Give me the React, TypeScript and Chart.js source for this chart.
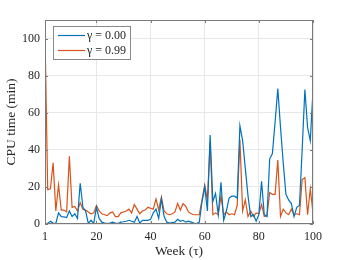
import React, { useEffect, useRef } from "react";
import { Chart, registerables } from "chart.js";

Chart.register(...registerables);

const weeks: number[] = Array.from({ length: 100 }, (_, i) => i + 1);

const gamma000: number[] = [
  0, 0.3, 1.5, 0.5, 0.3, 6, 4, 3.8, 3.5, 7,
  4, 5.5, 3, 22, 9, 7, 0.3, 2, 0.3, 9,
  3, 1, 0.5, 0.3, 0.5, 1, 0.5, 0.3, 1, 1.2,
  1.5, 2, 1.5, 1, 4, 0.5, 2, 2, 2, 2.5,
  6, 8, 3, 13.5, 4, 1, 0.5, 0.8, 1, 2.5,
  1.5, 2, 1, 1.5, 1, 0.5, 0.2, 1, 12, 20,
  7, 48, 12, 16.5, 5, 22.5, 2, 7, 14, 15,
  15, 14, 53, 45, 30, 15, 4, 5, 1.5, 5,
  23, 5, 4, 35, 38, 55, 73, 52, 33, 16,
  13, 11, 4, 9, 10, 40, 72.5, 52, 45, 72,
];

const gamma099: number[] = [
  102, 18.5, 19, 33, 7, 21, 7.5, 7.5, 6.5, 36.5,
  9, 9.5, 7, 11.5, 8, 7.5, 6.5, 5.5, 6, 10,
  7, 5.5, 5, 4.5, 6, 6.5, 4, 4, 6, 6.5,
  7, 8, 6, 10.5, 8, 5.5, 7, 7.5, 9, 8.5,
  8, 13.5, 7.5, 14.5, 7, 5.5, 5, 5.5, 6.5, 11,
  7.5, 11, 9.5, 6.5, 5.5, 5, 5, 5, 13, 21,
  13, 44, 5, 6, 5, 15, 5, 6.5, 5, 5.5,
  5, 10, 45.5, 7, 13, 4, 7, 4, 6, 5.5,
  10.5, 4, 4.5, 17, 16, 16, 34.5, 4, 8, 6,
  5, 8, 5, 5.5, 5, 24, 25, 5, 19, 6,
];

const seriesLabels = ["γ = 0.00", "γ = 0.99"];
const xTicks = [1, 20, 40, 60, 80, 100];
const yTicks = [0, 20, 40, 60, 80, 100];

const BLUE = "rgb(0,114,189)";
const ORANGE = "rgb(217,83,25)";
const SERIF = "'Liberation Serif', 'DejaVu Serif', serif";

const framePlugin = {
  id: "frame",
  afterDatasetsDraw(chart: any) {
    const { ctx, chartArea } = chart;
    const { left, right, top, bottom } = chartArea;
    const xs = chart.scales.x;
    const ys = chart.scales.y;
    ctx.save();
    ctx.strokeStyle = "#7a7a7a";
    ctx.lineWidth = 1;
    ctx.strokeRect(Math.round(left) + 0.5, Math.round(top) + 0.5, Math.round(right - left) - 1, Math.round(bottom - top) - 1);
    ctx.beginPath();
    xTicks.forEach((v) => {
      const px = Math.round(xs.getPixelForValue(v)) + 0.5;
      ctx.moveTo(px, bottom);
      ctx.lineTo(px, bottom - 3);
      ctx.moveTo(px, top);
      ctx.lineTo(px, top + 3);
    });
    yTicks.forEach((v) => {
      const py = Math.round(ys.getPixelForValue(v)) + 0.5;
      ctx.moveTo(left, py);
      ctx.lineTo(left + 3, py);
      ctx.moveTo(right, py);
      ctx.lineTo(right - 3, py);
    });
    ctx.stroke();

    // legend
    const bx = 53.5, by = 26.5, bw = 77, bh = 33;
    ctx.fillStyle = "#ffffff";
    ctx.fillRect(bx, by, bw, bh);
    ctx.strokeStyle = "#8a8a8a";
    ctx.strokeRect(bx, by, bw, bh);
    const rows = [
      { color: BLUE, label: seriesLabels[0], y: 35.5 },
      { color: ORANGE, label: seriesLabels[1], y: 50.5 },
    ];
    rows.forEach((r) => {
      ctx.strokeStyle = r.color;
      ctx.lineWidth = 1.2;
      ctx.beginPath();
      ctx.moveTo(58, r.y);
      ctx.lineTo(85, r.y);
      ctx.stroke();
      ctx.fillStyle = "#262626";
      ctx.font = `12px ${SERIF}`;
      ctx.textBaseline = "middle";
      ctx.textAlign = "left";
      ctx.fillText(r.label, 87, r.y + 0.5);
    });
    ctx.restore();
  },
};

export default function App() {
  const ref = useRef<HTMLCanvasElement>(null);
  useEffect(() => {
    document.body.style.margin = "0";
    const chart = new Chart(ref.current!, {
      type: "line",
      data: {
        datasets: [
          {
            label: seriesLabels[0],
            data: weeks.map((w, i) => ({ x: w, y: gamma000[i] })),
            borderColor: BLUE,
            borderWidth: 1.2,
            pointRadius: 0,
            tension: 0,
          },
          {
            label: seriesLabels[1],
            data: weeks.map((w, i) => ({ x: w, y: gamma099[i] })),
            borderColor: ORANGE,
            borderWidth: 1.2,
            pointRadius: 0,
            tension: 0,
          },
        ],
      },
      options: {
        animation: false,
        responsive: false,
        devicePixelRatio: 1,
        layout: { padding: { top: 20, right: 33, left: 0, bottom: 0 } },
        plugins: { legend: { display: false }, tooltip: { enabled: false } },
        scales: {
          x: {
            type: "linear",
            min: 1,
            max: 100,
            afterBuildTicks: (s: any) => {
              s.ticks = xTicks.map((v) => ({ value: v }));
            },
            afterFit: (s: any) => {
              s.height = 36;
            },
            grid: { color: "#e8e8e8", drawTicks: false },
            border: { display: false },
            ticks: { padding: 6, color: "#262626", font: { family: SERIF, size: 12 }, maxRotation: 0 },
            title: { display: true, text: "Week (τ)", color: "#262626", font: { family: SERIF, size: 13.5 }, padding: { top: 1, bottom: 0 } },
          },
          y: {
            type: "linear",
            min: 0,
            max: 110,
            afterBuildTicks: (s: any) => {
              s.ticks = yTicks.map((v) => ({ value: v }));
            },
            afterFit: (s: any) => {
              s.width = 45;
            },
            grid: { color: "#e8e8e8", drawTicks: false },
            border: { display: false },
            ticks: { padding: 5, color: "#262626", font: { family: SERIF, size: 12 } },
            title: { display: true, text: "CPU time (min)", color: "#262626", font: { family: SERIF, size: 13.5 }, padding: { top: 3, bottom: 0 } },
          },
        },
      },
      plugins: [framePlugin],
    });
    return () => chart.destroy();
  }, []);
  return (
    <div style={{ width: 346, height: 260, background: "#fff" }}>
      <canvas ref={ref} width={346} height={260} style={{ display: "block", width: 346, height: 260 }} />
    </div>
  );
}
